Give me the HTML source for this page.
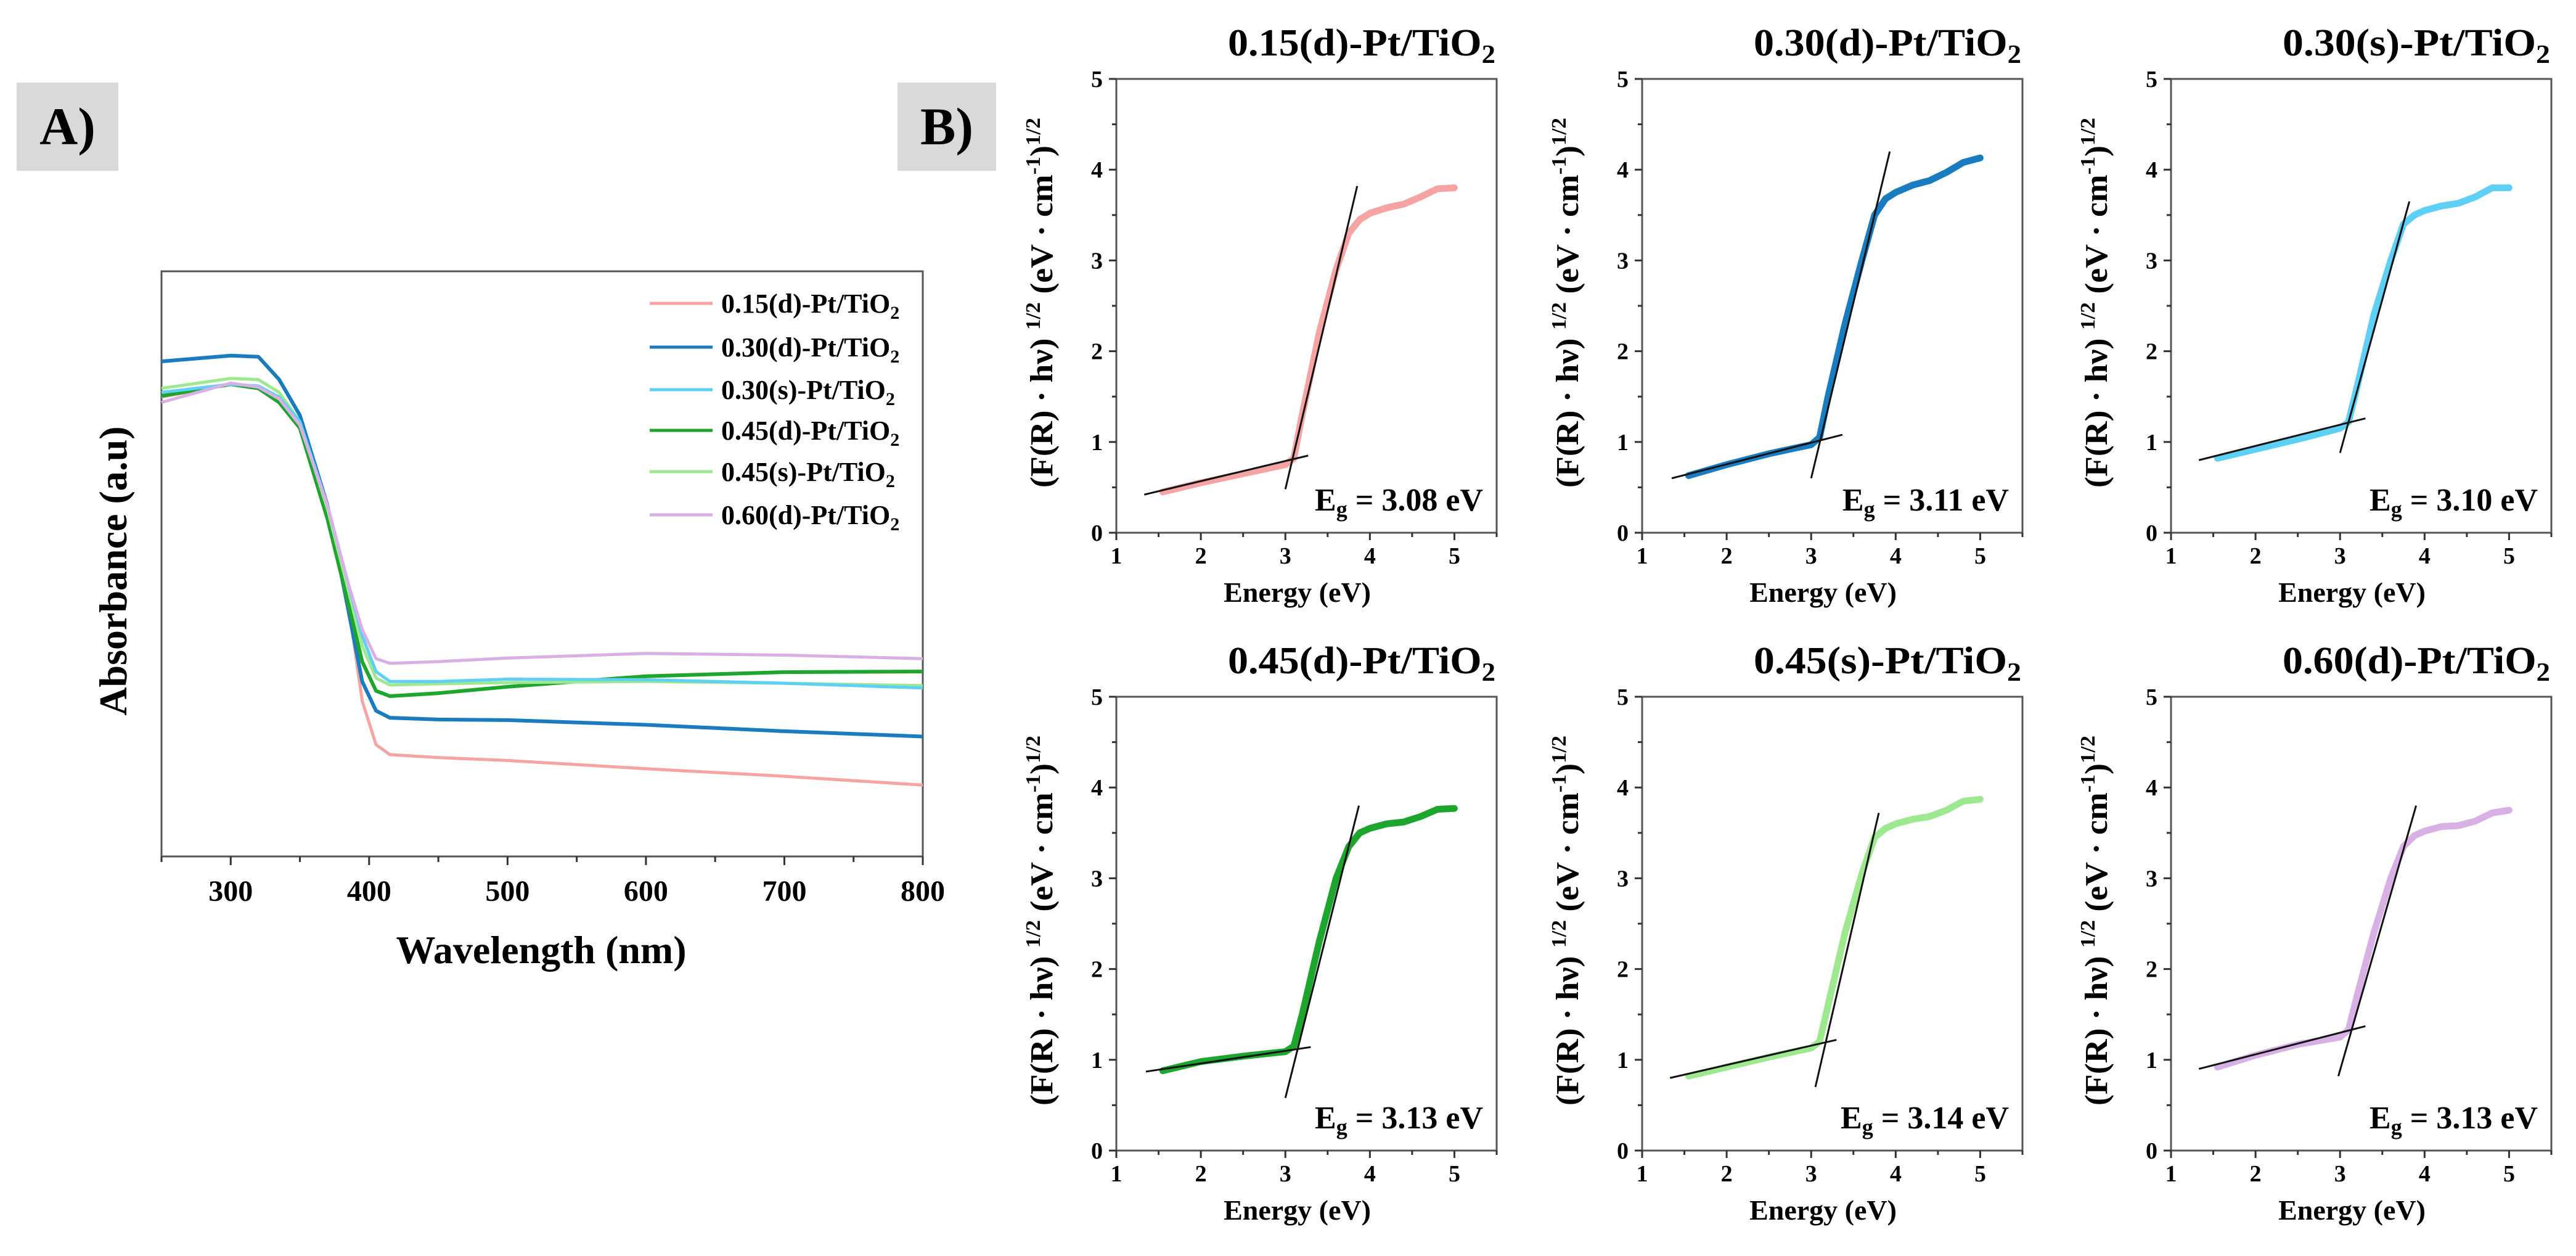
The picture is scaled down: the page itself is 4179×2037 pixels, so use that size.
<!DOCTYPE html>
<html><head><meta charset="utf-8">
<style>
html,body{margin:0;padding:0;background:#fff;}
svg{display:block;font-family:"Liberation Serif",serif;font-weight:bold;}
</style></head>
<body>
<svg id="fig" width="4179" height="2037" viewBox="0 0 4179 2037" xmlns="http://www.w3.org/2000/svg"></svg>
<script>
// ---------- Panel A data ----------
const wavelengths = [250,300,320,335,350,370,385,395,405,415,450,500,600,700,800];
const absPink   = [.785,.807,.802,.782,.732,.588,.432,.266,.191,.174,.169,.164,.150,.137,.122];
const absBlue   = [.846,.856,.854,.815,.754,.599,.421,.299,.249,.237,.234,.233,.225,.214,.205];
const absLBlue  = [.793,.807,.804,.785,.743,.599,.466,.377,.316,.299,.299,.303,.302,.296,.288];
const absGreen  = [.787,.807,.800,.776,.732,.576,.432,.333,.283,.274,.279,.290,.308,.315,.316];
const absLGreen = [.800,.817,.815,.793,.743,.593,.455,.360,.305,.293,.295,.297,.299,.296,.292];
const absLilac  = [.776,.809,.802,.782,.737,.599,.466,.388,.338,.330,.333,.339,.347,.344,.338];
const seriesNames = ["0.15(d)-Pt/TiO","0.30(d)-Pt/TiO","0.30(s)-Pt/TiO","0.45(d)-Pt/TiO","0.45(s)-Pt/TiO","0.60(d)-Pt/TiO"];
const seriesColors = ["#f5a3a3","#1a7cc0","#5fd0f5","#1ea52e","#9ee890","#d8b0e6"];
const xTicksA = [300,400,500,600,700,800];

// ---------- Panel B data ----------
const energy = [1.55,2.0,2.5,3.0,3.1,3.2,3.4,3.6,3.75,3.88,4.0,4.2,4.4,4.6,4.8,5.0];
const tauc1 = [0.45,0.55,0.65,0.75,0.82,1.3,2.2,2.9,3.3,3.45,3.52,3.58,3.62,3.70,3.79,3.80];
const tauc2 = [0.63,0.75,0.87,0.97,1.05,1.5,2.3,3.0,3.5,3.68,3.75,3.83,3.88,3.97,4.08,4.13];
const tauc3 = [0.82,0.92,1.03,1.15,1.22,1.6,2.4,3.0,3.4,3.5,3.55,3.60,3.63,3.70,3.80,3.80];
const tauc4 = [0.88,0.98,1.04,1.09,1.15,1.5,2.3,3.0,3.35,3.5,3.55,3.60,3.62,3.68,3.76,3.77];
const tauc5 = [0.82,0.92,1.03,1.13,1.2,1.6,2.4,3.05,3.45,3.55,3.60,3.65,3.68,3.75,3.85,3.87];
const tauc6 = [0.92,1.05,1.17,1.25,1.33,1.7,2.4,3.0,3.35,3.47,3.52,3.57,3.58,3.63,3.72,3.75];
const fitBase = [[1.33,0.42,3.27,0.85],[1.35,0.60,3.37,1.08],[1.33,0.80,3.30,1.26],[1.35,0.87,3.30,1.14],[1.33,0.80,3.30,1.22],[1.33,0.90,3.30,1.37]];
const fitEdge = [[3.00,0.48,3.85,3.82],[3.00,0.60,3.93,4.20],[3.00,0.88,3.82,3.65],[3.00,0.58,3.87,3.80],[3.05,0.70,3.80,3.72],[2.98,0.82,3.90,3.80]];
const bandGaps = ["3.08","3.11","3.10","3.13","3.14","3.13"];
const panelTitles = ["0.15(d)-Pt/TiO","0.30(d)-Pt/TiO","0.30(s)-Pt/TiO","0.45(d)-Pt/TiO","0.45(s)-Pt/TiO","0.60(d)-Pt/TiO"];
const panelColors = ["#f5a3a3","#1a7cc0","#5fd0f5","#1ea52e","#9ee890","#d8b0e6"];
const xTicksB = [1,2,3,4,5];
const yTicksB = [0,1,2,3,4,5];

const NS="http://www.w3.org/2000/svg";
const svg=document.getElementById('fig');
function el(tag,attrs,parent,txt){const e=document.createElementNS(NS,tag);for(const k in attrs)e.setAttribute(k,attrs[k]);if(txt!==undefined)e.textContent=txt;(parent||svg).appendChild(e);return e;}

// Label boxes
[["A)",27,134,165,143,"panel-a-label"],["B)",1456,134,160,143,"panel-b-label"]].forEach(b=>{
  const g=el('g',{});
  
  
  el('rect',{x:b[1],y:b[2],width:b[3],height:b[4],fill:'#d9d9d9'},g);
  el('text',{x:b[1]+b[3]/2,y:b[2]+100,'text-anchor':'middle','font-size':86},g,b[0]);
});

// ---------- Panel A ----------
(function(){
  const L=262,R=1497,T=440,B=1389;
  const xA=w=>L+(w-250)/(800-250)*(R-L);
  const yA=v=>B-v*(B-T);
  const g=el('g',{});
  
  
  const fr=el('rect',{x:L,y:T,width:R-L,height:B-T,fill:'none',stroke:'#555','stroke-width':3},g);
  
  
  for(let w=250;w<=800;w+=50){
    const major=(w%100===0);
    el('line',{x1:xA(w),x2:xA(w),y1:B,y2:B+(major?14:9),stroke:'#333','stroke-width':3},g);
  }
  xTicksA.forEach(t=>{
    const tx=el('text',{x:xA(t),y:B+72,'text-anchor':'middle','font-size':48},g,String(t));
    
    
  });
  const xt=el('text',{x:878,y:1562,'text-anchor':'middle','font-size':64},g,'Wavelength (nm)');
  
  
  const yt=el('text',{x:0,y:0,'text-anchor':'middle','font-size':64,transform:'translate(205,926) rotate(-90)'},g,'Absorbance (a.u)');
  
  
  const all=[absPink,absBlue,absLBlue,absGreen,absLGreen,absLilac];
  const order=[0,1,3,4,2,5];
  order.forEach(i=>{
    const pts=wavelengths.map((w,k)=>xA(w).toFixed(1)+','+yA(all[i][k]).toFixed(1)).join(' ');
    const p=el('polyline',{points:pts,fill:'none',stroke:seriesColors[i],'stroke-width':i===1||i===3?6:5,'stroke-linejoin':'round'},g);
    
    
  });
  const ly=[492,563,632,698,765,835];
  seriesNames.forEach((n,i)=>{
    const lg=el('g',{},g);
    
    
    el('line',{x1:1054,x2:1156,y1:ly[i],y2:ly[i],stroke:seriesColors[i],'stroke-width':5},lg);
    const t=el('text',{x:1170,y:ly[i]+15,'font-size':44},lg,n);
    el('tspan',{'font-size':30,dy:10},t,'2');
  });
})();

// ---------- Panel B ----------
const lefts=[1811,2664,3522], tops=[128,1130], W=617, H=736;
const taucAll=[tauc1,tauc2,tauc3,tauc4,tauc5,tauc6];
for(let p=0;p<6;p++){
  const L=lefts[p%3], T=tops[Math.floor(p/3)], B=T+H, R=L+W;
  const xB=e=>L+(e-1)/4.5*W;
  const yB=v=>B-v/5*H;
  const g=el('g',{});
  
  
  const fr=el('rect',{x:L,y:T,width:W,height:H,fill:'none',stroke:'#555','stroke-width':3},g);
  
  
  for(let v=0;v<=5;v+=0.5){
    el('line',{x1:L,x2:L-(v%1===0?12:7),y1:yB(v),y2:yB(v),stroke:'#333','stroke-width':3},g);
  }
  for(let e=1;e<=5.5;e+=0.5){
    el('line',{x1:xB(e),x2:xB(e),y1:B,y2:B+(e%1===0?12:7),stroke:'#333','stroke-width':3},g);
  }
  yTicksB.forEach(t=>{
    const tx=el('text',{x:L-22,y:yB(t)+13,'text-anchor':'end','font-size':38},g,String(t));
    
    
  });
  xTicksB.forEach(t=>{
    const tx=el('text',{x:xB(t),y:B+50,'text-anchor':'middle','font-size':38},g,String(t));
    
    
  });
  const xt=el('text',{x:L+W/2-15,y:B+112,'text-anchor':'middle','font-size':46},g,'Energy (eV)');
  
  
  const yt=el('text',{x:0,y:0,'text-anchor':'middle','font-size':52,textLength:600,lengthAdjust:'spacingAndGlyphs',transform:`translate(${L-104},${T+H/2-5}) rotate(-90)`},g);
  
  
  yt.appendChild(document.createTextNode('(F(R) · hν) '));
  el('tspan',{'font-size':34,dy:-20},yt,'1/2');
  el('tspan',{dy:20},yt,' (eV · cm');
  el('tspan',{'font-size':34,dy:-20},yt,'-1');
  el('tspan',{dy:20},yt,')');
  el('tspan',{'font-size':34,dy:-20},yt,'1/2');
  const tt=el('text',{x:R-2,y:T-38,'text-anchor':'end','font-size':62,textLength:434,lengthAdjust:'spacingAndGlyphs'},g,panelTitles[p]);
  
  
  el('tspan',{'font-size':42,dy:12},tt,'2');
  const d=taucAll[p];
  const pts=energy.map((e,k)=>xB(e).toFixed(1)+','+yB(d[k]).toFixed(1)).join(' ');
  const pl=el('polyline',{points:pts,fill:'none',stroke:panelColors[p],'stroke-width':11,'stroke-linejoin':'round','stroke-linecap':'round'},g);
  
  
  [fitBase[p],fitEdge[p]].forEach(f=>{
    const ln=el('line',{x1:xB(f[0]),y1:yB(f[1]),x2:xB(f[2]),y2:yB(f[3]),stroke:'#111','stroke-width':3},g);
    
    
  });
  const eg=el('text',{x:R-22,y:B-36,'text-anchor':'end','font-size':52},g,'E');
  
  
  el('tspan',{'font-size':36,dy:10},eg,'g');
  el('tspan',{dy:-10},eg,' = '+bandGaps[p]+' eV');
}
</script>
</body></html>
